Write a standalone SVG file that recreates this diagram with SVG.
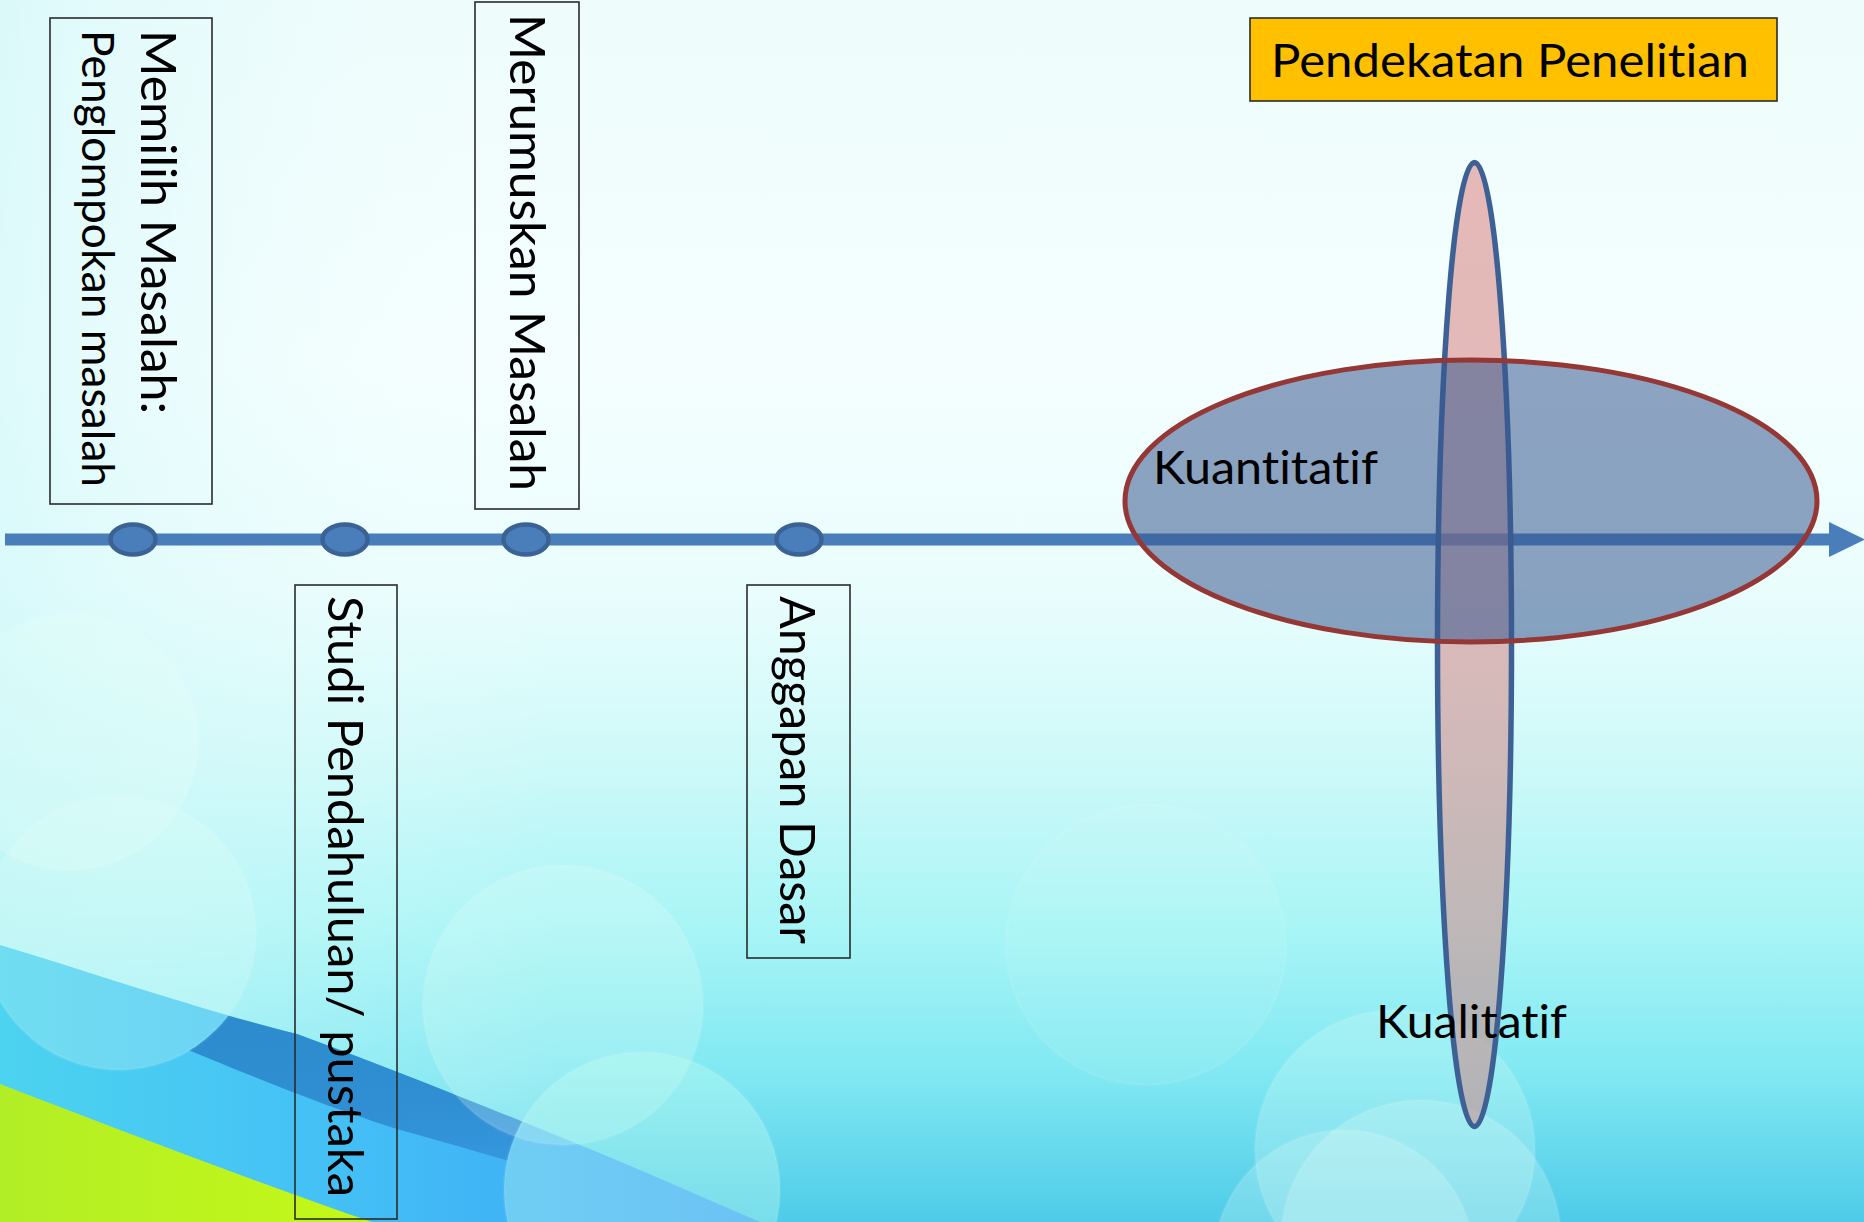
<svg xmlns="http://www.w3.org/2000/svg" width="1864" height="1222" viewBox="0 0 1864 1222">
<defs>
<linearGradient id="bg" x1="0" y1="0" x2="0" y2="1">
<stop offset="0" stop-color="#eefcfc"/>
<stop offset="0.3" stop-color="#f4fefe"/>
<stop offset="0.48" stop-color="#eafdfd"/>
<stop offset="0.62" stop-color="#cff9f9"/>
<stop offset="0.76" stop-color="#a8f5f6"/>
<stop offset="0.88" stop-color="#80e8f2"/>
<stop offset="1" stop-color="#4ecbe8"/>
</linearGradient>
<linearGradient id="bgside" x1="0" y1="0" x2="1" y2="0">
<stop offset="0" stop-color="#c8f6f8" stop-opacity="0.5"/>
<stop offset="0.3" stop-color="#ffffff" stop-opacity="0"/>
<stop offset="1" stop-color="#ffffff" stop-opacity="0"/>
</linearGradient>
<linearGradient id="band" x1="0" y1="0" x2="1" y2="0">
<stop offset="0" stop-color="#4cd3ef"/>
<stop offset="0.4" stop-color="#45c2f5"/>
<stop offset="1" stop-color="#3aa2f6"/>
</linearGradient>
<linearGradient id="dark" x1="0" y1="0" x2="0.3" y2="1">
<stop offset="0" stop-color="#2b8acb"/>
<stop offset="0.6" stop-color="#2f8fd2"/>
<stop offset="1" stop-color="#3a9ae6"/>
</linearGradient>
<linearGradient id="yg" x1="0" y1="0" x2="1" y2="0">
<stop offset="0" stop-color="#b2ee26"/>
<stop offset="1" stop-color="#c4f818"/>
</linearGradient>
<linearGradient id="pink" x1="0" y1="0" x2="0" y2="1">
<stop offset="0" stop-color="#dc8c8a"/>
<stop offset="1" stop-color="#c98f90"/>
</linearGradient>
<mask id="noC2" maskUnits="userSpaceOnUse" x="0" y="0" width="1864" height="1222">
<rect x="0" y="0" width="1864" height="1222" fill="#fff"/>
<circle cx="119" cy="933" r="137" fill="#000"/>
<circle cx="642" cy="1190" r="138" fill="#000"/>
</mask>
<marker id="arrow" markerUnits="userSpaceOnUse" markerWidth="36" markerHeight="36" viewBox="0 0 36 36" refX="0" refY="18" orient="auto">
<path d="M0,0.5 L36,18 L0,35.5 Z" fill="#4a7ebb"/>
</marker>
</defs>
<style>
.lbl { font-family: Lato, "Liberation Sans", sans-serif; font-size: 49px; fill: #000; font-variant-ligatures: none; font-feature-settings: "liga" 0, "clig" 0; }
.box { fill: none; stroke: #2b2b2b; stroke-width: 1.6; }
.dot { fill: #4a7ebb; stroke: #3a6295; stroke-width: 4.5; }
.bokeh { fill: #e6fff8; fill-opacity: 0.24; stroke: #ffffff; stroke-opacity: 0.07; stroke-width: 3; }
</style>

<g id="background">
<rect x="0" y="0" width="1864" height="1222" fill="url(#bg)"/>
<rect x="0" y="0" width="1864" height="1222" fill="url(#bgside)"/>
<path d="M0,945 C100,975 200,1010 297,1034 C400,1072 520,1120 640,1170 L760,1222 L0,1222 Z" fill="url(#band)"/>
<path d="M100,980 C200,1008 250,1022 297,1034 C400,1072 520,1120 640,1170 L760,1222 L700,1222 L640,1200 C560,1176 480,1152 397,1129 C330,1108 260,1080 140,1030 Z" fill="url(#dark)" mask="url(#noC2)"/>
<path d="M0,1084 C120,1130 250,1180 372,1222 L0,1222 Z" fill="url(#yg)"/>
<circle class="bokeh" cx="70" cy="742" r="128" style="fill-opacity:0.3"/>
<circle class="bokeh" cx="119" cy="933" r="137"/>
<circle class="bokeh" cx="563" cy="1005" r="140"/>
<circle class="bokeh" cx="642" cy="1190" r="138" style="fill:#c8fff0;fill-opacity:0.35"/>
<circle class="bokeh" cx="1146" cy="945" r="140" style="fill-opacity:0.1"/>
<circle class="bokeh" cx="1395" cy="1150" r="140"/>
<circle class="bokeh" cx="1344" cy="1260" r="130"/>
<circle class="bokeh" cx="1421" cy="1240" r="140"/>
</g>

<g id="connectors">
<path id="timeline" d="M5,539.5 L1829,539.5" stroke="#4a7ebb" stroke-width="12" fill="none" marker-end="url(#arrow)"/>
</g>

<g id="dot-1"><ellipse class="dot" cx="133" cy="539.5" rx="22.5" ry="15"/></g>
<g id="dot-2"><ellipse class="dot" cx="345" cy="539.5" rx="22.5" ry="15"/></g>
<g id="dot-3"><ellipse class="dot" cx="526" cy="539.5" rx="22.5" ry="15"/></g>
<g id="dot-4"><ellipse class="dot" cx="799" cy="539.5" rx="22.5" ry="15"/></g>

<g id="node-memilih">
<rect class="box" x="50" y="18" width="162" height="486"/>
<text class="lbl" transform="translate(141,30) rotate(90)" textLength="384" lengthAdjust="spacingAndGlyphs">Memilih Masalah:</text>
<text class="lbl" transform="translate(82,30) rotate(90)" style="font-size:45px" textLength="457" lengthAdjust="spacingAndGlyphs">Penglompokan masalah</text>
</g>

<g id="node-merumuskan">
<rect class="box" x="475" y="2" width="104" height="507"/>
<text class="lbl" transform="translate(510,14) rotate(90)" textLength="477" lengthAdjust="spacingAndGlyphs">Merumuskan Masalah</text>
</g>

<g id="node-studi">
<rect class="box" x="295" y="585" width="102" height="634"/>
<text class="lbl" transform="translate(328,596) rotate(90)" textLength="601" lengthAdjust="spacingAndGlyphs">Studi Pendahuluan/ pustaka</text>
</g>

<g id="node-anggapan">
<rect class="box" x="747" y="585" width="103" height="373"/>
<text class="lbl" transform="translate(780,596) rotate(90)" textLength="348" lengthAdjust="spacingAndGlyphs">Anggapan Dasar</text>
</g>

<g id="node-pendekatan">
<rect x="1250" y="18" width="527" height="83" fill="#ffc000" stroke="#2b2b2b" stroke-width="1.6"/>
<text class="lbl" x="1271" y="77" style="font-size:46px" textLength="478" lengthAdjust="spacingAndGlyphs">Pendekatan Penelitian</text>
</g>

<g id="node-kualitatif">
<ellipse cx="1474.5" cy="644.5" rx="37" ry="482" fill="url(#pink)" fill-opacity="0.6" stroke="#3d6195" stroke-width="5.5"/>
<text class="lbl" x="1376" y="1038" style="font-size:46px" textLength="191" lengthAdjust="spacingAndGlyphs">Kualitatif</text>
</g>

<g id="node-kuantitatif">
<ellipse cx="1471" cy="501" rx="346" ry="141" fill="rgb(54,88,142)" fill-opacity="0.55" stroke="#953735" stroke-width="5"/>
<text class="lbl" x="1153" y="484" style="font-size:46px" textLength="225" lengthAdjust="spacingAndGlyphs">Kuantitatif</text>
</g>
</svg>
